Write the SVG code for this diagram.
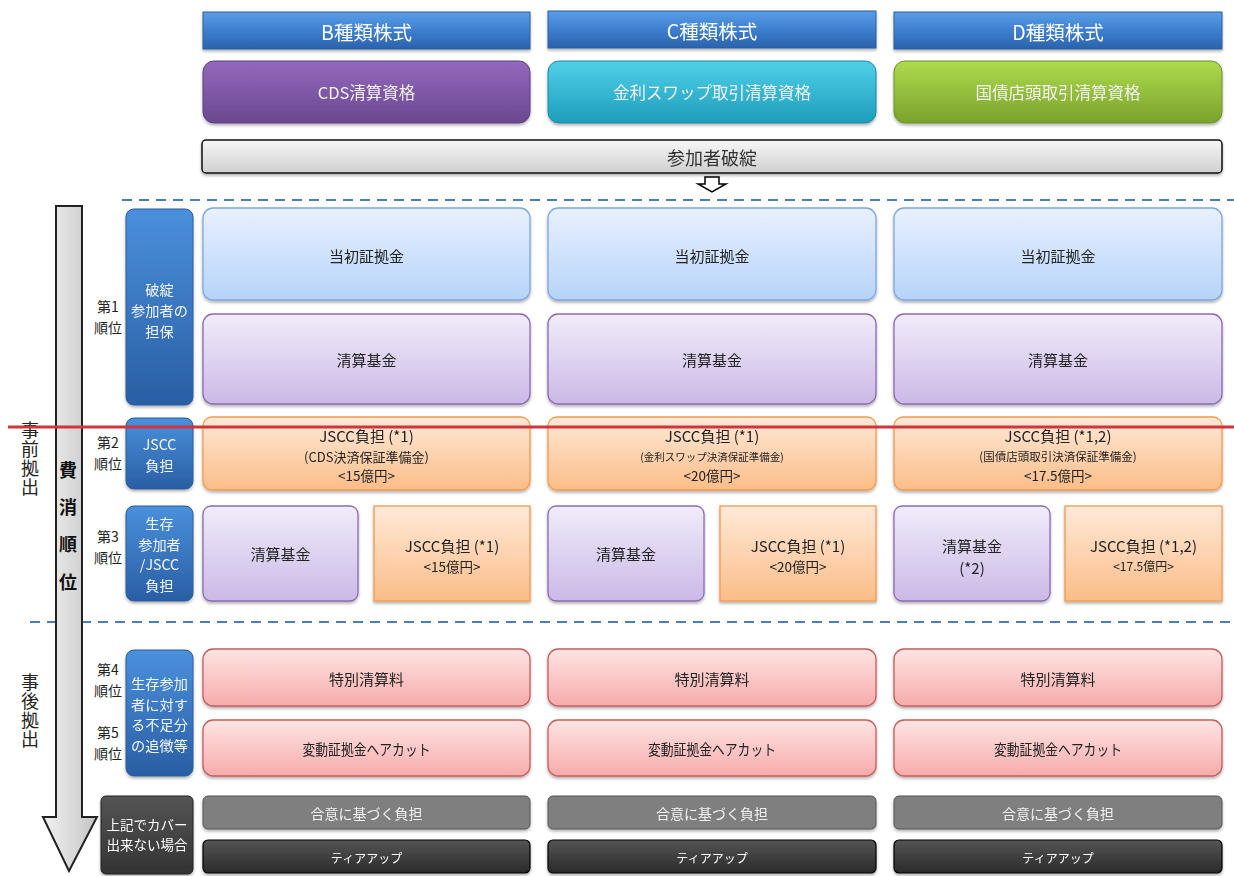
<svg xmlns="http://www.w3.org/2000/svg" width="1234" height="876" viewBox="0 0 1234 876">
<defs>
<linearGradient id="gHead" x1="0" y1="0" x2="0" y2="1"><stop offset="0" stop-color="#5a9ee6"/><stop offset="0.5" stop-color="#3d7fcf"/><stop offset="1" stop-color="#2b62ab"/></linearGradient>
<linearGradient id="gPur" x1="0" y1="0" x2="0" y2="1"><stop offset="0" stop-color="#9468bd"/><stop offset="1" stop-color="#6b4890"/></linearGradient>
<linearGradient id="gCyan" x1="0" y1="0" x2="0" y2="1"><stop offset="0" stop-color="#4fd0e8"/><stop offset="1" stop-color="#1e9dbb"/></linearGradient>
<linearGradient id="gGrn" x1="0" y1="0" x2="0" y2="1"><stop offset="0" stop-color="#addb4e"/><stop offset="1" stop-color="#7ba22c"/></linearGradient>
<linearGradient id="gGray" x1="0" y1="0" x2="0" y2="1"><stop offset="0" stop-color="#f7f7f7"/><stop offset="1" stop-color="#cfcfcf"/></linearGradient>
<linearGradient id="gLB" x1="0" y1="0" x2="0" y2="1"><stop offset="0" stop-color="#e8f1ff"/><stop offset="1" stop-color="#b7d3fa"/></linearGradient>
<linearGradient id="gLav" x1="0" y1="0" x2="0" y2="1"><stop offset="0" stop-color="#f1ecfa"/><stop offset="1" stop-color="#cbb9e6"/></linearGradient>
<linearGradient id="gOr" x1="0" y1="0" x2="0" y2="1"><stop offset="0" stop-color="#ffe9d8"/><stop offset="1" stop-color="#fbbd88"/></linearGradient>
<linearGradient id="gPink" x1="0" y1="0" x2="0" y2="1"><stop offset="0" stop-color="#ffe4e4"/><stop offset="1" stop-color="#f7abab"/></linearGradient>
<linearGradient id="gBlue" x1="0" y1="0" x2="0" y2="1"><stop offset="0" stop-color="#4a90dc"/><stop offset="1" stop-color="#2a5ea4"/></linearGradient>
<linearGradient id="gDark" x1="0" y1="0" x2="0" y2="1"><stop offset="0" stop-color="#555"/><stop offset="1" stop-color="#333"/></linearGradient>
<linearGradient id="gTier" x1="0" y1="0" x2="0" y2="1"><stop offset="0" stop-color="#555"/><stop offset="1" stop-color="#2a2a2a"/></linearGradient>
<linearGradient id="gArrow" x1="0" y1="0" x2="1" y2="0"><stop offset="0" stop-color="#f2f2f2"/><stop offset="1" stop-color="#c4c4c4"/></linearGradient>
<filter id="sh" x="-5%" y="-5%" width="110%" height="120%"><feDropShadow dx="0" dy="2" stdDeviation="1.5" flood-color="#000" flood-opacity="0.3"/></filter>
</defs>
<style>
text{font-family:"Noto Sans CJK JP","Liberation Sans",sans-serif;text-anchor:middle;dominant-baseline:central}
.hd{fill:url(#gHead);stroke:#2f5f9e;stroke-width:1}
.ht{font-size:19.5px;fill:#fff}
.qt{font-size:16.5px;fill:#f2f2f2}
.lb{fill:url(#gLB);stroke:#7ea7df;stroke-width:1.3}
.lv{fill:url(#gLav);stroke:#8a6bb1;stroke-width:1.3}
.or{fill:url(#gOr);stroke:#f39a4d;stroke-width:1.3}
.pk{fill:url(#gPink);stroke:#c75c5c;stroke-width:1.3}
.bl{fill:url(#gBlue);stroke:#2c5c9a;stroke-width:1}
.t{font-size:15px;fill:#222}
.j{font-size:15px;fill:#222}
.w{font-size:14.2px;fill:#f4f6fb}
.rk{font-size:14px;fill:#222}
.vt{font-size:18px;fill:#222;writing-mode:vertical-rl;text-anchor:start;letter-spacing:1px}
.vb{font-size:18px;fill:#111;font-weight:bold;writing-mode:vertical-rl;text-anchor:start;letter-spacing:19.3px}
.ag{fill:#7f7f7f;stroke:#555;stroke-width:1}
.ti{fill:url(#gTier);stroke:#000;stroke-width:1.2}
.wt{font-size:13px;fill:#fff}
.dash{stroke:#4a7ebb;stroke-width:2;stroke-dasharray:10 7;fill:none}
</style>

<g id="connectors">
<line class="dash" x1="122" y1="200" x2="1234" y2="200"/>
<line class="dash" x1="30" y1="622" x2="1234" y2="622"/>
<path d="M705 177 H719 V184 H726 L712 192 L698 184 H705 Z" fill="#fff" stroke="#000" stroke-width="1.5"/>
<path d="M56 206 H82 V817 H97 L69 871 L43 817 H56 Z" fill="url(#gArrow)" stroke="#222" stroke-width="2"/>
</g>

<g id="side-labels">
<text class="vt" x="30" y="421">事前拠出</text>
<text class="vt" x="30" y="673">事後拠出</text>
<text class="vb" x="68" y="461">費消順位</text>
<text class="rk"><tspan x="108" y="306">第1</tspan><tspan x="108" y="326.5">順位</tspan></text>
<text class="rk"><tspan x="108" y="442">第2</tspan><tspan x="108" y="462.5">順位</tspan></text>
<text class="rk"><tspan x="108" y="536">第3</tspan><tspan x="108" y="556.5">順位</tspan></text>
<text class="rk"><tspan x="108" y="669">第4</tspan><tspan x="108" y="689.5">順位</tspan></text>
<text class="rk"><tspan x="108" y="732">第5</tspan><tspan x="108" y="752.5">順位</tspan></text>
</g>

<g id="blue-1" filter="url(#sh)"><rect class="bl" x="126" y="209" width="67" height="196" rx="8"/>
<text class="w"><tspan x="159.5" y="289">破綻</tspan><tspan x="159.5" y="310">参加者の</tspan><tspan x="159.5" y="331">担保</tspan></text></g>
<g id="blue-2" filter="url(#sh)"><rect class="bl" x="126" y="418" width="67" height="71" rx="8"/>
<text class="w"><tspan x="159.5" y="444">JSCC</tspan><tspan x="159.5" y="465">負担</tspan></text></g>
<g id="blue-3" filter="url(#sh)"><rect class="bl" x="126" y="506" width="67" height="95" rx="8"/>
<text class="w"><tspan x="159.5" y="523">生存</tspan><tspan x="159.5" y="543.5">参加者</tspan><tspan x="159.5" y="564">/JSCC</tspan><tspan x="159.5" y="584.5">負担</tspan></text></g>
<g id="blue-4" filter="url(#sh)"><rect class="bl" x="126" y="650" width="67" height="126" rx="8"/>
<text class="w"><tspan x="159.5" y="683">生存参加</tspan><tspan x="159.5" y="703.5">者に対す</tspan><tspan x="159.5" y="724">る不足分</tspan><tspan x="159.5" y="744.5">の追徴等</tspan></text></g>
<g id="dark-left" filter="url(#sh)"><rect x="101" y="796" width="92" height="78" rx="5" fill="url(#gDark)" stroke="#222"/>
<text class="wt" style="font-size:13.5px"><tspan x="147" y="824">上記でカバー</tspan><tspan x="147" y="844">出来ない場合</tspan></text></g>

<g id="hdr-b" filter="url(#sh)"><rect class="hd" x="203" y="12" width="327" height="37"/><text class="ht" x="366.5" y="31">B種類株式</text></g>
<g id="hdr-c" filter="url(#sh)"><rect class="hd" x="548" y="11" width="328" height="37"/><text class="ht" x="712" y="30">C種類株式</text></g>
<g id="hdr-d" filter="url(#sh)"><rect class="hd" x="894" y="12" width="328" height="37"/><text class="ht" x="1058" y="31">D種類株式</text></g>

<g id="q-b" filter="url(#sh)"><rect x="203" y="61" width="327" height="62" rx="11" fill="url(#gPur)" stroke="#5e3f82"/><text class="qt" x="366.5" y="92">CDS清算資格</text></g>
<g id="q-c" filter="url(#sh)"><rect x="548" y="61" width="328" height="62" rx="11" fill="url(#gCyan)" stroke="#1b8ba6"/><text class="qt" x="712" y="92">金利スワップ取引清算資格</text></g>
<g id="q-d" filter="url(#sh)"><rect x="894" y="61" width="328" height="62" rx="11" fill="url(#gGrn)" stroke="#6c9027"/><text class="qt" x="1058" y="92">国債店頭取引清算資格</text></g>

<g id="default" filter="url(#sh)"><rect x="202" y="140" width="1020" height="33" rx="4" fill="url(#gGray)" stroke="#111" stroke-width="1.5"/><text x="712" y="157" style="font-size:18px;fill:#333">参加者破綻</text></g>

<g id="b-im" filter="url(#sh)"><rect class="lb" x="203" y="208" width="327" height="92" rx="10"/><text class="t" x="366.5" y="255">当初証拠金</text></g>
<g id="c-im" filter="url(#sh)"><rect class="lb" x="548" y="208" width="328" height="92" rx="10"/><text class="t" x="712" y="255">当初証拠金</text></g>
<g id="d-im" filter="url(#sh)"><rect class="lb" x="894" y="208" width="328" height="92" rx="10"/><text class="t" x="1058" y="255">当初証拠金</text></g>

<g id="b-cf" filter="url(#sh)"><rect class="lv" x="203" y="314" width="327" height="90" rx="10"/><text class="t" x="366.5" y="359">清算基金</text></g>
<g id="c-cf" filter="url(#sh)"><rect class="lv" x="548" y="314" width="328" height="90" rx="10"/><text class="t" x="712" y="359">清算基金</text></g>
<g id="d-cf" filter="url(#sh)"><rect class="lv" x="894" y="314" width="328" height="90" rx="10"/><text class="t" x="1058" y="359">清算基金</text></g>

<g id="b-jscc" filter="url(#sh)"><rect class="or" x="203" y="417" width="327" height="73" rx="9"/>
<text class="j"><tspan x="366.5" y="435">JSCC負担 (*1)</tspan><tspan x="366.5" y="455.5" style="font-size:13px">(CDS決済保証準備金)</tspan><tspan x="366.5" y="475" style="font-size:13.5px">&lt;15億円&gt;</tspan></text></g>
<g id="c-jscc" filter="url(#sh)"><rect class="or" x="548" y="417" width="328" height="73" rx="9"/>
<text class="j"><tspan x="712" y="435">JSCC負担 (*1)</tspan><tspan x="712" y="455.5" style="font-size:10.5px">(金利スワップ決済保証準備金)</tspan><tspan x="712" y="475" style="font-size:13.5px">&lt;20億円&gt;</tspan></text></g>
<g id="d-jscc" filter="url(#sh)"><rect class="or" x="894" y="417" width="328" height="73" rx="9"/>
<text class="j"><tspan x="1058" y="435">JSCC負担 (*1,2)</tspan><tspan x="1058" y="455.5" style="font-size:11.5px">(国債店頭取引決済保証準備金)</tspan><tspan x="1058" y="475" style="font-size:13.5px">&lt;17.5億円&gt;</tspan></text></g>

<g id="b-cf2" filter="url(#sh)"><rect class="lv" x="203" y="506" width="155" height="95" rx="8"/><text class="t" x="280.5" y="553">清算基金</text></g>
<g id="b-j2" filter="url(#sh)"><rect class="or" x="374" y="506" width="156" height="95"/><text class="j"><tspan x="452" y="545">JSCC負担 (*1)</tspan><tspan x="452" y="566" style="font-size:13.5px">&lt;15億円&gt;</tspan></text></g>
<g id="c-cf2" filter="url(#sh)"><rect class="lv" x="548" y="506" width="156" height="95" rx="8"/><text class="t" x="626" y="553">清算基金</text></g>
<g id="c-j2" filter="url(#sh)"><rect class="or" x="720" y="506" width="156" height="95"/><text class="j"><tspan x="798" y="545">JSCC負担 (*1)</tspan><tspan x="798" y="566" style="font-size:13.5px">&lt;20億円&gt;</tspan></text></g>
<g id="d-cf2" filter="url(#sh)"><rect class="lv" x="894" y="506" width="156" height="95" rx="8"/><text class="t"><tspan x="972" y="545">清算基金</tspan><tspan x="972" y="567">(*2)</tspan></text></g>
<g id="d-j2" filter="url(#sh)"><rect class="or" x="1065" y="506" width="157" height="95"/><text class="j"><tspan x="1143.5" y="545">JSCC負担 (*1,2)</tspan><tspan x="1143.5" y="565" style="font-size:12px">&lt;17.5億円&gt;</tspan></text></g>

<g id="b-sp" filter="url(#sh)"><rect class="pk" x="203" y="649" width="327" height="57" rx="10"/><text class="t" x="366.5" y="678">特別清算料</text></g>
<g id="c-sp" filter="url(#sh)"><rect class="pk" x="548" y="649" width="328" height="57" rx="10"/><text class="t" x="712" y="678">特別清算料</text></g>
<g id="d-sp" filter="url(#sh)"><rect class="pk" x="894" y="649" width="328" height="57" rx="10"/><text class="t" x="1058" y="678">特別清算料</text></g>

<g id="b-hc" filter="url(#sh)"><rect class="pk" x="203" y="720" width="327" height="56" rx="10"/><text class="t" x="366.5" y="748" textLength="128" lengthAdjust="spacingAndGlyphs">変動証拠金ヘアカット</text></g>
<g id="c-hc" filter="url(#sh)"><rect class="pk" x="548" y="720" width="328" height="56" rx="10"/><text class="t" x="712" y="748" textLength="128" lengthAdjust="spacingAndGlyphs">変動証拠金ヘアカット</text></g>
<g id="d-hc" filter="url(#sh)"><rect class="pk" x="894" y="720" width="328" height="56" rx="10"/><text class="t" x="1058" y="748" textLength="128" lengthAdjust="spacingAndGlyphs">変動証拠金ヘアカット</text></g>

<g id="b-ag" filter="url(#sh)"><rect class="ag" x="203" y="796" width="327" height="33" rx="5"/><text class="wt" x="366.5" y="813" style="font-size:14px;fill:#f2f2f2">合意に基づく負担</text></g>
<g id="c-ag" filter="url(#sh)"><rect class="ag" x="548" y="796" width="328" height="33" rx="5"/><text class="wt" x="712" y="813" style="font-size:14px;fill:#f2f2f2">合意に基づく負担</text></g>
<g id="d-ag" filter="url(#sh)"><rect class="ag" x="894" y="796" width="328" height="33" rx="5"/><text class="wt" x="1058" y="813" style="font-size:14px;fill:#f2f2f2">合意に基づく負担</text></g>

<g id="b-tu" filter="url(#sh)"><rect class="ti" x="203" y="840" width="327" height="33" rx="5"/><text class="wt" x="366.5" y="857" style="font-size:12px">ティアアップ</text></g>
<g id="c-tu" filter="url(#sh)"><rect class="ti" x="548" y="840" width="328" height="33" rx="5"/><text class="wt" x="712" y="857" style="font-size:12px">ティアアップ</text></g>
<g id="d-tu" filter="url(#sh)"><rect class="ti" x="894" y="840" width="328" height="33" rx="5"/><text class="wt" x="1058" y="857" style="font-size:12px">ティアアップ</text></g>

<g id="red-line"><line x1="8" y1="427" x2="1234" y2="427" stroke="#d0353b" stroke-width="3"/></g>
</svg>
